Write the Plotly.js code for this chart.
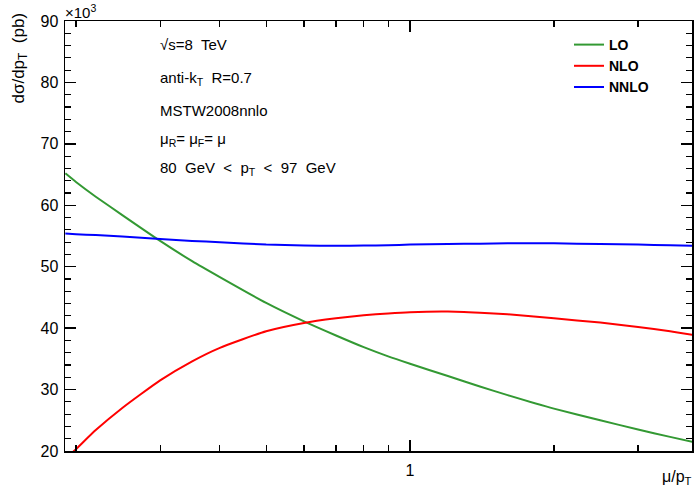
<!DOCTYPE html>
<html>
<head>
<meta charset="utf-8">
<script src="https://cdn.plot.ly/plotly-3.0.1.min.js"></script>
<style>html,body{margin:0;padding:0;background:#fff;}#chart{width:694px;height:498px;}</style>
</head>
<body>
<div id="chart"></div>
<script>
// scale ratio mu/pT
const muOverPt = [0.19, 0.2, 0.22, 0.25, 0.3, 0.35, 0.4, 0.5, 0.6, 0.7, 0.8, 0.9, 1.0, 1.2, 1.4, 1.6, 2.0, 2.5, 3.0, 3.5, 3.9];
// dsigma/dpT in units of 10^3 pb
const loValues   = [65.2, 63.8, 61.4, 58.4, 54.2, 50.9, 48.3, 44.1, 41.1, 38.8, 36.9, 35.4, 34.2, 32.2, 30.5, 29.1, 26.9, 25.0, 23.5, 22.3, 21.5];
const nloValues  = [18.7, 20.3, 23.4, 27.0, 31.5, 34.6, 36.8, 39.5, 40.85, 41.6, 42.1, 42.4, 42.6, 42.7, 42.5, 42.25, 41.6, 40.9, 40.2, 39.5, 38.9];
const nnloValues = [55.4, 55.3, 55.15, 54.9, 54.5, 54.2, 54.0, 53.6, 53.45, 53.4, 53.45, 53.5, 53.6, 53.7, 53.75, 53.8, 53.8, 53.7, 53.6, 53.5, 53.4];
const seriesNames = ["LO", "NLO", "NNLO"];
const seriesColors = ["#339933", "#ff0000", "#0000ff"];
const xMajorTicks = [1];
const xMinorTicks = [0.2, 0.3, 0.4, 0.5, 0.6, 0.7, 0.8, 0.9, 2, 3];
const infoLines = ["&#8730;s=8&nbsp; TeV", "anti-k<sub>T</sub>&nbsp; R=0.7", "MSTW2008nnlo", "&#956;<sub>R</sub>= &#956;<sub>F</sub>= &#956;", "80&nbsp; GeV&nbsp; &lt;&nbsp; p<sub>T</sub>&nbsp; &lt;&nbsp; 97&nbsp; GeV"];

const FONT = "Liberation Sans, Arial, Helvetica, sans-serif";
const allY = [loValues, nloValues, nnloValues];
const traces = allY.map((ys, i) => ({
  x: muOverPt, y: ys, type: "scatter", mode: "lines",
  name: "<b>" + seriesNames[i] + "</b>",
  line: {color: seriesColors[i], width: 2, shape: "spline", smoothing: 0.5}
}));

const W = 694, H = 498, L = 65, R = 2, T = 21, B = 47;
const pw = W - L - R, ph = H - T - B;
const px = v => (v - L) / pw;      // pixel x -> paper
const py = v => (H - B - v) / ph;  // pixel y -> paper

const annotations = [];
const infoY = [44, 78, 110, 139, 168];
infoLines.forEach((t, i) => annotations.push({
  text: t, xref: "paper", yref: "paper", x: px(158), y: py(infoY[i]),
  xanchor: "left", yanchor: "middle", showarrow: false,
  font: {family: FONT, size: 15, color: "#000"}
}));
annotations.push({text: "&#215;10<sup>3</sup>", xref: "paper", yref: "paper", x: px(63), y: py(0),
  xanchor: "left", yanchor: "top", showarrow: false, font: {family: FONT, size: 15, color: "#000"}});
annotations.push({text: "d&#963;/dp<sub>T</sub>&nbsp; (pb)", xref: "paper", yref: "paper", x: px(20), y: py(11),
  xanchor: "center", yanchor: "top", textangle: -90, showarrow: false, font: {family: FONT, size: 17, color: "#000"}});
annotations.push({text: "&#956;/p<sub>T</sub>", xref: "paper", yref: "paper", x: px(694), y: py(466),
  xanchor: "right", yanchor: "top", showarrow: false, font: {family: FONT, size: 16, color: "#000"}});

const layout = {
  width: W, height: H,
  margin: {l: L, r: R, t: T, b: B, pad: 0},
  paper_bgcolor: "#fff", plot_bgcolor: "#fff",
  font: {family: FONT, size: 15, color: "#000"},
  showlegend: true,
  legend: {x: px(569), y: py(29), xanchor: "left", yanchor: "top", bgcolor: "rgba(0,0,0,0)",
           font: {family: FONT, size: 14, color: "#000"}, itemwidth: 30},
  xaxis: {
    type: "log", range: [Math.log10(0.1897), Math.log10(3.89)],
    showgrid: false, zeroline: false, showline: true, linecolor: "#000", linewidth: 1.5, mirror: "ticks",
    ticks: "inside", ticklen: 11, tickwidth: 1.5, tickcolor: "#000",
    tickmode: "array", tickvals: xMajorTicks, ticktext: xMajorTicks.map(String),
    tickfont: {family: FONT, size: 16}, ticklabelstandoff: 4,
    minor: {tickmode: "array", tickvals: xMinorTicks, ticks: "inside", ticklen: 6, tickwidth: 1.2, tickcolor: "#000", showgrid: false}
  },
  yaxis: {
    range: [20, 90], showgrid: false, zeroline: false, showline: true, linecolor: "#000", linewidth: 1.5, mirror: "ticks",
    ticks: "inside", ticklen: 11, tickwidth: 1.5, tickcolor: "#000", dtick: 10, tick0: 0,
    tickfont: {family: FONT, size: 16}, ticklabelstandoff: 2,
    minor: {dtick: 2, ticks: "inside", ticklen: 6, tickwidth: 1.2, tickcolor: "#000", showgrid: false}
  },
  annotations: annotations
};

Plotly.newPlot("chart", traces, layout, {displayModeBar: false, staticPlot: true});
</script>
</body>
</html>
